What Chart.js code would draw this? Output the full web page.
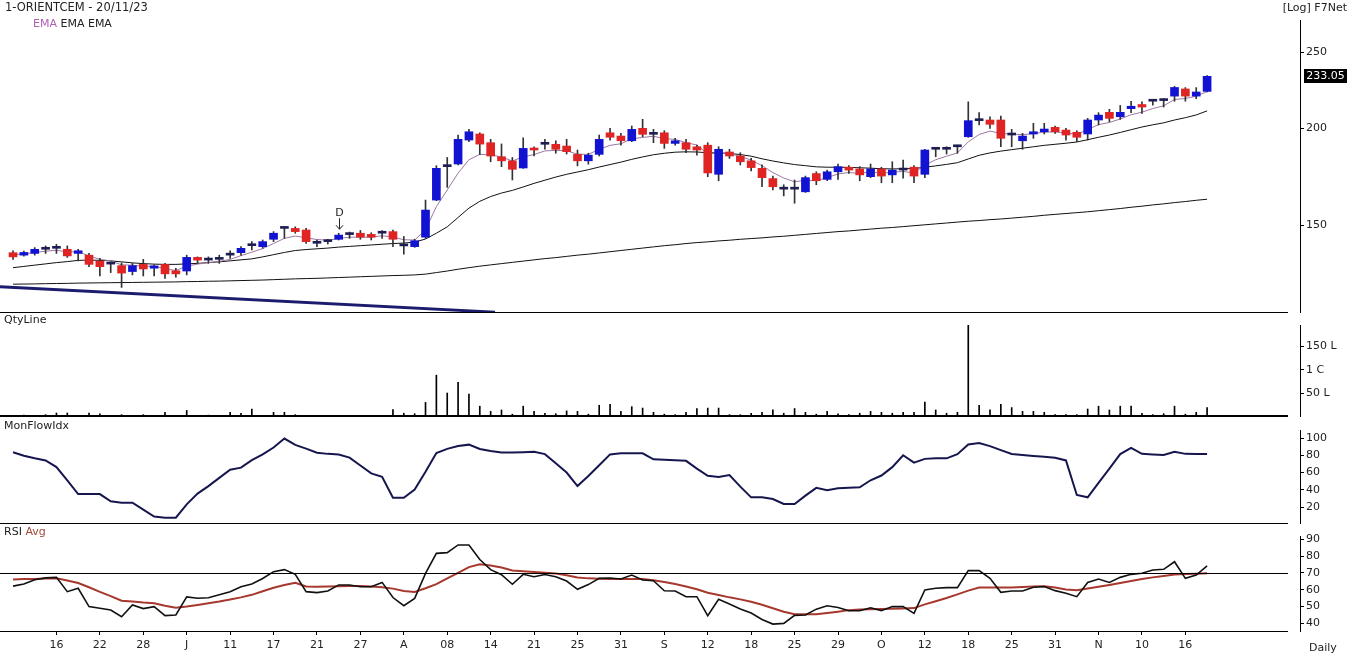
<!DOCTYPE html>
<html>
<head>
<meta charset="utf-8">
<script src="https://cdn.jsdelivr.net/npm/chart.js"></script>
<style>
html,body{margin:0;padding:0;background:#fff;width:1352px;height:656px;overflow:hidden;font-family:"DejaVu Sans",Verdana,sans-serif;}
canvas{position:absolute;left:0;}
.t{position:absolute;font-size:11px;color:#222;white-space:nowrap;line-height:13px;z-index:5;}
</style>
</head>
<body>
<canvas id="cPrice" width="1352" height="313" style="top:0px"></canvas>
<canvas id="cVol" width="1352" height="99" style="top:318px"></canvas>
<canvas id="cMfi" width="1352" height="104" style="top:420px"></canvas>
<canvas id="cRsi" width="1352" height="131" style="top:525px"></canvas>

<div class="t" style="left:5px;top:1px;font-size:11.5px;">1-ORIENTCEM - 20/11/23</div>
<div class="t" style="left:33px;top:17px;"><span style="color:#b060b0">EMA</span> EMA EMA</div>
<div class="t" style="right:5px;top:1px;">[Log] F7Net</div>
<div class="t" style="left:4px;top:313px;">QtyLine</div>
<div class="t" style="left:4px;top:419px;">MonFlowIdx</div>
<div class="t" style="left:4px;top:525px;">RSI <span style="color:#a04a3a">Avg</span></div>
<div class="t" style="left:1309px;top:641px;">Daily</div>

<script>
// ---------------- DATA ----------------
const categories = [
 '2023-06-12','2023-06-13','2023-06-14','2023-06-15','2023-06-16','2023-06-19','2023-06-20','2023-06-21','2023-06-22','2023-06-23',
 '2023-06-26','2023-06-27','2023-06-28','2023-06-30','2023-07-03','2023-07-04','2023-07-05','2023-07-06','2023-07-07','2023-07-10',
 '2023-07-11','2023-07-12','2023-07-13','2023-07-14','2023-07-17','2023-07-18','2023-07-19','2023-07-20','2023-07-21','2023-07-24',
 '2023-07-25','2023-07-26','2023-07-27','2023-07-28','2023-07-31','2023-08-01','2023-08-02','2023-08-03','2023-08-04','2023-08-07',
 '2023-08-08','2023-08-09','2023-08-10','2023-08-11','2023-08-14','2023-08-16','2023-08-17','2023-08-18','2023-08-21','2023-08-22',
 '2023-08-23','2023-08-24','2023-08-25','2023-08-28','2023-08-29','2023-08-30','2023-08-31','2023-09-01','2023-09-04','2023-09-05',
 '2023-09-06','2023-09-07','2023-09-08','2023-09-11','2023-09-12','2023-09-13','2023-09-14','2023-09-15','2023-09-18','2023-09-20',
 '2023-09-21','2023-09-22','2023-09-25','2023-09-26','2023-09-27','2023-09-28','2023-09-29','2023-10-03','2023-10-04','2023-10-05',
 '2023-10-06','2023-10-09','2023-10-10','2023-10-11','2023-10-12','2023-10-13','2023-10-16','2023-10-17','2023-10-18','2023-10-19',
 '2023-10-20','2023-10-23','2023-10-25','2023-10-26','2023-10-27','2023-10-30','2023-10-31','2023-11-01','2023-11-02','2023-11-03',
 '2023-11-06','2023-11-07','2023-11-08','2023-11-09','2023-11-10','2023-11-12','2023-11-13','2023-11-15','2023-11-16','2023-11-17',
 '2023-11-20'];

const tickDates = ['2023-06-16','2023-06-22','2023-06-28','2023-07-05','2023-07-11','2023-07-17','2023-07-21','2023-07-27',
 '2023-08-02','2023-08-08','2023-08-14','2023-08-21','2023-08-25','2023-08-31','2023-09-06','2023-09-12','2023-09-18',
 '2023-09-25','2023-09-29','2023-10-06','2023-10-12','2023-10-18','2023-10-25','2023-10-31','2023-11-06','2023-11-10','2023-11-16'];
const tickLabels = ['16','22','28','J','11','17','21','27','A','08','14','21','25','31','S','12','18','25','29','O','12','18','25','31','N','10','16'];

const open = [138.3,137.3,138.0,139.7,140.1,139.7,138.0,137.3,134.9,133.7,
 133.1,130.8,133.6,132.1,133.6,131.1,131.0,136.4,135.3,135.6,
 137.3,138.3,141.2,140.8,143.9,148.6,148.6,147.9,142.2,142.9,
 143.9,146.1,146.5,146.0,146.5,147.2,141.1,140.8,144.8,161.6,
 178.4,179.8,193.0,196.5,191.5,183.7,181.5,177.7,188.3,190.6,
 190.6,189.6,185.0,181.5,185.0,197.2,195.3,192.6,199.8,196.3,
 197.2,191.1,191.5,189.2,190.1,174.4,186.3,184.1,181.5,177.5,
 172.2,167.1,166.9,165.6,174.8,171.8,175.7,178.1,177.2,173.2,
 177.2,174.1,176.6,178.1,174.4,187.8,187.8,189.2,194.9,204.4,
 204.8,204.8,195.9,192.6,196.5,197.8,200.4,198.8,197.5,196.5,
 204.8,209.5,206.8,211.8,214.4,216.5,216.9,219.8,224.5,219.8,
 222.9];
const high = [139.1,139.0,140.4,141.1,141.8,141.1,139.7,138.0,136.0,134.6,
 134.2,134.0,135.6,133.4,134.0,132.0,137.3,136.6,136.6,137.3,
 139.1,140.8,142.9,143.6,147.2,149.3,149.3,148.6,143.6,143.9,
 146.5,147.0,147.7,146.7,147.7,147.9,145.1,143.9,161.6,178.9,
 183.3,195.9,199.2,197.2,193.4,190.8,183.3,194.3,189.2,193.4,
 192.6,193.4,187.4,185.6,195.9,199.8,196.9,201.2,205.2,199.2,
 198.4,194.0,193.4,190.1,191.5,189.2,187.8,185.9,182.8,179.3,
 173.5,169.1,171.5,173.5,175.7,176.6,179.8,178.9,178.4,179.8,
 178.1,181.0,181.9,178.9,187.8,188.8,189.2,190.1,216.1,209.3,
 206.8,207.2,199.2,196.9,202.8,202.8,201.2,199.8,198.4,205.8,
 209.3,211.4,213.8,216.5,216.1,217.3,218.1,226.2,225.4,225.4,
 233.6];
const low = [135.6,136.9,137.3,138.0,138.0,136.4,135.0,132.7,129.1,130.4,
 124.8,129.5,129.1,129.1,128.2,128.6,129.5,134.0,134.0,134.0,
 136.0,137.3,139.4,140.1,142.9,144.3,146.5,142.2,140.8,141.9,
 143.6,144.3,143.9,143.6,144.3,140.8,137.7,140.5,144.3,161.3,
 167.8,179.3,192.1,184.9,181.0,178.4,171.5,177.5,184.1,187.8,
 185.6,185.2,178.8,179.7,184.1,193.0,190.1,192.1,194.9,191.5,
 188.3,190.1,185.9,184.6,173.2,171.1,182.8,179.3,176.2,168.1,
 166.5,163.6,160.1,165.3,169.1,171.1,171.8,174.8,171.1,172.7,
 170.1,170.1,172.4,170.1,172.7,183.7,185.2,185.6,194.6,201.8,
 199.8,189.2,189.2,187.8,194.0,196.5,196.9,193.0,192.1,193.0,
 201.8,203.7,205.2,209.3,208.9,214.0,212.8,216.5,216.5,218.1,
 222.5];
const close = [136.6,138.4,139.7,139.9,140.2,137.0,139.1,133.6,132.7,133.8,
 130.2,133.1,131.8,133.0,129.9,129.9,136.4,135.3,135.4,135.7,
 137.4,140.1,141.3,142.9,146.5,148.7,147.2,142.9,142.3,143.0,
 145.7,145.9,144.8,144.8,146.6,143.9,141.2,143.3,156.9,177.5,
 178.5,193.4,197.8,190.7,184.1,181.5,177.0,188.3,187.4,190.7,
 187.8,186.5,181.5,184.6,193.4,194.6,192.6,199.2,196.3,196.4,
 191.1,192.6,187.8,187.4,175.1,187.8,184.1,181.0,177.9,172.7,
 168.1,166.9,167.0,172.7,171.1,175.7,178.4,176.6,174.1,177.2,
 173.5,176.6,176.7,173.5,187.4,187.9,187.9,189.3,204.4,204.5,
 202.2,194.0,196.0,195.3,197.8,199.4,197.8,195.9,194.6,204.8,
 207.8,205.8,209.5,213.3,212.8,216.6,217.0,225.5,219.8,222.5,
 233.05];

const emaShort = [137.5,137.8,138.4,138.9,139.3,138.6,138.7,137.0,135.6,135.0,
 133.4,133.3,132.8,132.9,131.9,131.2,132.9,133.7,134.3,134.8,
 135.6,137.1,138.5,140.0,142.1,144.3,145.3,144.5,143.8,143.5,
 144.2,144.8,144.8,144.8,145.4,144.9,143.7,143.6,148.0,158.5,
 166.5,175.0,182.1,185.0,184.7,183.6,181.4,183.7,184.9,186.9,
 187.2,187.0,185.1,185.0,187.8,190.0,190.9,193.7,194.5,195.2,
 193.8,193.4,191.5,190.2,185.1,186.0,185.4,183.9,181.9,178.9,
 175.3,172.5,170.6,171.3,171.2,172.7,174.6,175.3,174.9,175.7,
 174.9,175.5,175.9,175.1,179.2,182.1,184.0,185.8,192.0,196.2,
 198.2,196.8,196.5,196.1,196.7,197.6,197.7,197.1,196.3,199.1,
 202.0,203.3,205.4,208.0,209.6,211.9,213.6,217.6,218.3,219.7,
 222.8];
const emaMid = [132.3,132.8,133.3,133.8,134.3,134.7,135.2,135.3,135.2,135.0,
 134.6,134.2,133.9,133.7,133.6,133.6,133.8,134.0,134.3,134.6,
 135.0,135.4,135.8,136.6,137.5,138.4,139.2,139.6,139.9,140.2,
 140.6,140.9,141.2,141.5,141.8,142.1,142.3,142.7,144.0,146.5,
 149.3,153.5,157.8,161.0,163.3,165.0,166.3,168.0,169.8,171.4,
 173.0,174.4,175.6,176.8,178.2,179.5,180.8,182.3,183.6,184.8,
 185.6,186.2,186.4,186.3,185.9,185.8,185.5,184.9,184.0,182.6,
 181.4,180.4,179.5,178.9,178.3,178.1,178.1,178.0,177.8,177.6,
 177.3,177.2,177.3,177.4,178.1,178.8,179.6,180.5,182.5,184.5,
 185.8,186.8,187.6,188.4,189.2,190.0,190.6,191.2,191.9,193.2,
 194.6,195.9,197.4,199.0,200.6,201.9,203.1,204.8,206.2,207.9,
 210.4];
const emaLong = [126.0,126.05,126.1,126.2,126.25,126.3,126.4,126.45,126.5,126.55,
 126.6,126.65,126.7,126.75,126.8,126.85,126.95,127.0,127.1,127.15,
 127.25,127.35,127.45,127.55,127.7,127.85,128.0,128.1,128.2,128.35,
 128.5,128.65,128.8,128.95,129.1,129.25,129.35,129.5,129.8,130.4,
 131.0,131.7,132.3,132.9,133.4,133.9,134.4,134.9,135.4,135.9,
 136.3,136.8,137.3,137.7,138.2,138.7,139.2,139.7,140.2,140.7,
 141.2,141.6,142.1,142.5,142.8,143.2,143.5,143.9,144.2,144.5,
 144.9,145.2,145.6,146.0,146.4,146.8,147.2,147.5,147.9,148.3,
 148.7,149.0,149.4,149.8,150.2,150.6,151.0,151.4,151.8,152.1,
 152.5,152.8,153.2,153.6,154.0,154.5,154.9,155.3,155.7,156.1,
 156.6,157.1,157.6,158.2,158.7,159.3,159.8,160.4,160.9,161.5,
 162.0];

// drawn trend line (start / end in index units and price)
const trendX = [-1.2, 44.4];
const trendY = [125.0, 116.0];

const markers = [{date:'2023-07-25', text:'D'}];

// volume in lakh shares
const volume = [3,4,3,5,8.5,8.5,3,8.5,7,3,
 5,3,5,3,10,3,14,3,4,3,
 10,8,17,3,10,10,5,3,2,2,
 3,2,3,2,3,15.6,8,7,31,89,
 51,74,49,23,12,15,6,23,12,8,
 7,13,12,6,25,27,12,22,19,10,
 6,5,10,18,19,19,5,5,8,10,
 15,8,18,10,6,12,7,5,8,12,
 10,8,10,10,32,15,8,10,195,25,
 15,27,20,12,12,10,5,5,5,17,
 23,15,23,23,8,5,7,23,6,10,
 20];
const volTickValues = [50,100,150];
const volTickLabels = ['50 L','1 C','150 L'];

const mfi = [83.4,79.5,76.5,74,66.3,51,35,35,35,26.6,
 25,25,17,9,7.6,7.6,23,35.5,44.2,53.8,
 63.2,65.6,74.3,81,89,99.4,92,87.7,83,81.6,
 80.8,77.3,68.1,59,55,30.8,30.8,40.3,60.8,82.6,
 87.4,90.6,92.3,87.3,85,83.3,83.2,83.6,84,81.3,
 70.8,60,44.3,56,68.5,81,82.2,82.2,82.2,75.3,
 74.7,74.2,73.5,64.5,56.2,54.8,57,43.6,31.2,31.2,
 29.3,23.5,23.5,33.2,42.2,39.5,41.7,42.2,42.8,51,
 56.5,66.2,80,71.4,75.8,76.4,76.4,81.3,92.5,94.3,
 90.6,86,81.4,80.3,79.2,78.2,77.2,74,34,31.2,
 48,64.5,81.3,88.5,81.6,80.9,80.3,84,81.6,81.4,
 81.4];
const mfiTicks = [20,40,60,80,100];

const rsi = [62.2,63.5,66,67.1,67.4,58.9,60.9,50,49,48,
 44,51,48.8,50,44.6,45,55.8,55,55.3,57,
 58.8,61.8,63.5,66.7,70.8,72,69.2,58.9,58.3,59.3,
 62.9,62.9,61.8,61.8,64.4,55.4,50.5,54.9,69.8,81.7,
 82.1,86.7,86.7,78,72,69,63.3,69.2,67.8,69.1,
 67.8,65.2,60.3,63.1,66.8,67,66.4,68.8,65.8,65.4,
 59.4,59.3,55.9,55.9,44.6,54.3,51.5,48.6,46.2,42.3,
 39.6,40,44.8,45,48.5,50.5,49.5,47.5,47.5,49.3,
 47.6,50,50,46,59.9,60.9,61.3,61.3,71.4,71.4,
 66.8,58.5,59.3,59.3,61.5,62,59.5,57.9,55.9,64.4,
 66.4,64.4,67.4,69.2,69.8,71.8,72.2,76.7,66.8,68.8,
 74.3];
const rsiAvg = [66.2,66.4,66.5,66.7,66.8,65.5,64,61.5,58.8,56.2,
 53.5,53,52.4,52,50.5,49.3,50,51,52,53,
 54.2,55.5,57,59.1,61.2,62.8,64.2,62,61.8,62,
 62.1,62.3,62.2,61.9,61.5,60.7,59.3,58.7,60.9,63.4,
 66.8,70.1,73.5,75.2,74.5,73.3,71.5,71,70.6,70.1,
 69.7,68.7,67.3,66.8,66.6,66.5,66.4,66.4,66.4,65.7,
 64.6,63.4,62,60.3,58.2,56.9,55.5,54.3,52.9,51.1,
 49,46.9,45.4,45.4,45.4,46.2,47,47.9,48.2,48.4,
 48.6,48.7,48.9,49.1,51.3,53.2,55.1,57.3,59.5,61.3,
 61.3,61.3,61.3,61.6,61.9,62.1,61.3,60.2,59.7,60.8,
 61.8,62.9,64.1,65.2,66.4,67.4,68.2,69.1,69.4,69.6,
 69.8];
const rsiTicks = [40,50,60,70,80,90];
const rsiLevel = 70;
const priceTicks = [150,200,250];

// ---------------- CHARTS ----------------
Chart.defaults.font.family = '"DejaVu Sans", Verdana, sans-serif';
Chart.defaults.font.size = 11;
Chart.defaults.color = '#222';

const UP = '#1212d2', DOWN = '#e02424', DOJI = '#1e1e55';
const X_MIN = -1.2, X_MAX = 118.56;
const pts = arr => arr.map((v, i) => ({x: i, y: v}));

const frame = {
  id: 'frame',
  afterDraw(chart, args, o) {
    const {ctx, chartArea: a} = chart;
    ctx.save();
    ctx.strokeStyle = '#000';
    if (o.refLine !== undefined) {
      const ry = Math.round(chart.scales.y.getPixelForValue(o.refLine)) + 0.5;
      ctx.lineWidth = 1;
      ctx.beginPath(); ctx.moveTo(0, ry); ctx.lineTo(1288, ry); ctx.stroke();
    }
    const bw = o.bottomWidth || 1;
    ctx.lineWidth = bw;
    ctx.beginPath(); ctx.moveTo(0, a.bottom - bw / 2); ctx.lineTo(1288, a.bottom - bw / 2); ctx.stroke();
    ctx.lineWidth = 1;
    ctx.beginPath(); ctx.moveTo(a.right + 0.5, a.top + (o.axisTop || 0)); ctx.lineTo(a.right + 0.5, a.bottom); ctx.stroke();
    ctx.restore();
  }
};

const priceExtras = {
  id: 'priceExtras',
  afterDraw(chart) {
    const {ctx, scales: {x, y}} = chart;
    ctx.save();
    markers.forEach(m => {
      const i = categories.indexOf(m.date);
      const px = Math.round(x.getPixelForValue(i)) + 0.5;
      const tip = y.getPixelForValue(high[i]) - 4;
      ctx.strokeStyle = '#222'; ctx.fillStyle = '#222'; ctx.lineWidth = 1;
      ctx.beginPath(); ctx.moveTo(px, tip - 11); ctx.lineTo(px, tip); ctx.stroke();
      ctx.beginPath(); ctx.moveTo(px - 3.5, tip - 4); ctx.lineTo(px, tip); ctx.lineTo(px + 3.5, tip - 4); ctx.stroke();
      ctx.font = '11px "DejaVu Sans"'; ctx.textAlign = 'center'; ctx.textBaseline = 'bottom';
      ctx.fillText(m.text, px, tip - 11);
    });
    const last = close[close.length - 1];
    const py = Math.round(y.getPixelForValue(last));
    ctx.fillStyle = '#000';
    ctx.fillRect(1304, py - 7, 43, 14);
    ctx.fillStyle = '#fff'; ctx.font = '11px "DejaVu Sans"';
    ctx.textAlign = 'center'; ctx.textBaseline = 'middle';
    ctx.fillText(last.toFixed(2), 1325.5, py + 0.5);
    ctx.restore();
  }
};

function xHidden() {
  return {type: 'linear', min: X_MIN, max: X_MAX, bounds: 'data', offset: false, display: false, grid: {offset: false}};
}
function yRight(extra) {
  const base = {
    position: 'right', bounds: 'data',
    grid: {drawOnChartArea: false, drawTicks: true, tickLength: 4, color: '#000'},
    border: {display: false},
    afterFit: s => { s.width = 52; s.paddingTop = 0; s.paddingBottom = 0; }
  };
  return Object.assign(base, extra);
}
const tickFont = {family: '"DejaVu Sans", Verdana, sans-serif', size: 11};
const common = {responsive: false, animation: false, devicePixelRatio: 1, events: [], layout: {padding: 0}};

// Price
new Chart(document.getElementById('cPrice'), {
  type: 'bar',
  data: {
    datasets: [
      {label: 'body', data: open.map((o, i) => ({x: i, y: [o, close[i]]})), barThickness: 8, grouped: false, minBarLength: 2,
        backgroundColor: c => { const d = close[c.dataIndex] - open[c.dataIndex]; return Math.abs(d) < 0.25 ? DOJI : (d > 0 ? UP : DOWN); }},
      {label: 'wick', data: low.map((l, i) => ({x: i, y: [l, high[i]]})), barThickness: 1, grouped: false, backgroundColor: '#333'},
      {type: 'line', label: 'EMA1', data: pts(emaShort), borderColor: '#9c78a4', borderWidth: 1, pointRadius: 0, tension: 0},
      {type: 'line', label: 'EMA2', data: pts(emaMid), borderColor: '#111', borderWidth: 1, pointRadius: 0, tension: 0},
      {type: 'line', label: 'EMA3', data: pts(emaLong), borderColor: '#111', borderWidth: 1, pointRadius: 0, tension: 0},
      {type: 'line', label: 'trend', data: trendX.map((v, i) => ({x: v, y: trendY[i]})), borderColor: '#1c1c6e', borderWidth: 3, pointRadius: 0}
    ]
  },
  options: Object.assign({}, common, {
    plugins: {legend: {display: false}, tooltip: {enabled: false}, frame: {axisTop: 20}},
    scales: {
      x: xHidden(),
      y: yRight({type: 'logarithmic', min: 115.7, max: 292.1,
        afterBuildTicks: s => { s.ticks = priceTicks.map(v => ({value: v})); },
        ticks: {font: tickFont, color: '#222', padding: 2, autoSkip: false, callback: v => String(v)}})
    }
  }),
  plugins: [frame, priceExtras]
});

// Volume
new Chart(document.getElementById('cVol'), {
  type: 'bar',
  data: {datasets: [{label: 'Qty', data: pts(volume), barThickness: 1, grouped: false, backgroundColor: '#000'}]},
  options: Object.assign({}, common, {
    plugins: {legend: {display: false}, tooltip: {enabled: false}, frame: {axisTop: 7, bottomWidth: 2}},
    scales: {
      x: xHidden(),
      y: yRight({type: 'linear', min: 0, max: 210.6,
        afterBuildTicks: s => { s.ticks = volTickValues.map(v => ({value: v})); },
        ticks: {font: tickFont, color: '#222', padding: 2, autoSkip: false, callback: v => volTickLabels[volTickValues.indexOf(v)]}})
    }
  }),
  plugins: [frame]
});

// MFI
new Chart(document.getElementById('cMfi'), {
  type: 'line',
  data: {datasets: [{label: 'MFI', data: pts(mfi), borderColor: '#16164f', borderWidth: 2, pointRadius: 0, tension: 0}]},
  options: Object.assign({}, common, {
    plugins: {legend: {display: false}, tooltip: {enabled: false}, frame: {axisTop: 10}},
    scales: {
      x: xHidden(),
      y: yRight({type: 'linear', min: 0.29, max: 120.87,
        afterBuildTicks: s => { s.ticks = mfiTicks.map(v => ({value: v})); },
        ticks: {font: tickFont, color: '#222', padding: 2, autoSkip: false}})
    }
  }),
  plugins: [frame]
});

// RSI
new Chart(document.getElementById('cRsi'), {
  type: 'line',
  data: {datasets: [
    {label: 'RSI', data: pts(rsi), borderColor: '#111', borderWidth: 1.6, pointRadius: 0, tension: 0},
    {label: 'Avg', data: pts(rsiAvg), borderColor: '#a6382e', borderWidth: 2, pointRadius: 0, tension: 0}
  ]},
  options: Object.assign({}, common, {
    plugins: {legend: {display: false}, tooltip: {enabled: false}, frame: {axisTop: 11, refLine: rsiLevel}},
    scales: {
      x: {type: 'linear', min: X_MIN, max: X_MAX, bounds: 'data', offset: false, position: 'bottom',
        grid: {drawOnChartArea: false, drawTicks: true, tickLength: 3, color: '#000', offset: false},
        border: {display: false},
        afterBuildTicks: s => { s.ticks = tickDates.map(d => ({value: categories.indexOf(d)})); },
        afterFit: s => { s.height = 24; s.paddingLeft = 0; s.paddingRight = 0; },
        ticks: {font: tickFont, color: '#222', padding: 4, autoSkip: false, maxRotation: 0,
          callback: v => tickLabels[tickDates.indexOf(categories[Math.round(v)])]}},
      y: yRight({type: 'linear', min: 34.88, max: 98.57,
        afterBuildTicks: s => { s.ticks = rsiTicks.map(v => ({value: v})); },
        ticks: {font: tickFont, color: '#222', padding: 2, autoSkip: false}})
    }
  }),
  plugins: [frame]
});
</script>
</body>
</html>
